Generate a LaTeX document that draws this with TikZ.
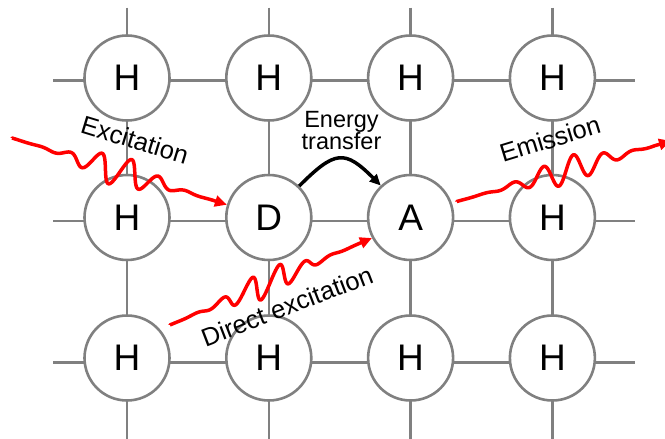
\documentclass[tikz,border=0pt]{standalone}
\usepackage{fontspec}
\setmainfont{Liberation Sans}
\usetikzlibrary{decorations,arrows.meta}

\definecolor{gridgray}{RGB}{128,128,128}
\definecolor{photonred}{RGB}{255,0,0}

% wave packet along a path: amplitude, centre, width, wavelength, phase, shear
\pgfdeclaredecoration{photonwave}{wave}{%
  \state{wave}[width=1pt, switch if less than=16pt to final]{%
    \pgfmathsetmacro\phS{\pgfdecoratedcompleteddistance}%
    \pgfmathsetmacro\phQ{(\phS-\phCen)/\phWid}%
    \pgfmathsetmacro\phT{(\phS-\phPha)/\phLen}%
    \pgfmathsetmacro\phOff{\phAmp*exp(-\phQ*\phQ)*sin(360*\phT)}%
    \pgfmathsetmacro\phX{\phK*\phOff}%
    \pgfpathlineto{\pgfpoint{\phX pt}{\phOff pt}}%
  }%
  \state{final}{\pgfpathlineto{\pgfpointdecoratedpathlast}}%
}

\tikzset{
  photon/.style n args={6}{decorate, decoration={photonwave}, draw=photonred,
    line width=3.5pt, line join=round, -{Triangle[length=12pt,width=11pt]},
    /utils/exec={\def\phAmp{#1}\def\phCen{#2}\def\phWid{#3}\def\phLen{#4}\def\phPha{#5}\def\phK{#6}}},
}

\begin{document}
\begin{tikzpicture}[x=1pt,y=-1pt,
  lattice/.style={draw=gridgray, line width=2.6pt},
  site/.style={circle, draw=gridgray, line width=2.6pt, fill=white,
    minimum size=85pt, inner sep=0pt, font=\fontsize{37}{40}\selectfont},
  lbl/.style={font=\fontsize{25.5}{27}\selectfont, inner sep=0pt},
  transferarrow/.style={line width=3.5pt, -{Triangle[length=11pt,width=10pt]}},
]
\useasboundingbox (0,0) rectangle (665,439);

% lattice lines
\foreach \gx in {127,268.8,410.6,552.4} \draw[lattice] (\gx,7.5) -- (\gx,439);
\foreach \gy in {80.5,221,362.5} \draw[lattice] (53,\gy) -- (635,\gy);

% sites
\node[site] (h11) at (127,78) {H};
\node[site] (h12) at (268.8,78) {H};
\node[site] (h13) at (410.6,78) {H};
\node[site] (h14) at (552.4,78) {H};
\node[site] (h21) at (127,217.5) {H};
\node[site] (D) at (268.8,217.5) {D};
\node[site] (A) at (410.6,217.5) {A};
\node[site] (h24) at (552.4,217.5) {H};
\node[site] (h31) at (127,358) {H};
\node[site] (h32) at (268.8,358) {H};
\node[site] (h33) at (410.6,358) {H};
\node[site] (h34) at (552.4,358) {H};

% energy transfer
\draw[transferarrow] (D.46) .. controls +(36,-36) and +(-36,-36) .. (A.133);
\node[font=\fontsize{23.5}{22}\selectfont, align=center, inner sep=0pt] (let) at (341.5,131) {Energy\\transfer};

% photons
\coordinate (exS) at (12,138);
\coordinate (diS) at (170,325);
\coordinate (emE) at (671,141);
\coordinate (emS) at ([xshift=5pt,yshift=1pt]A.20);
\draw[photon={15.5}{112}{44}{31}{82.25}{0}] (exS) -- (D.163);
\draw[photon={13}{105}{44}{30}{79.5}{0.67}] (diS) -- (A.208);
\draw[photon={13.5}{115}{46}{31.5}{50.6}{0.28}] (emS) -- (emE);

% labels
\node[lbl, rotate=-17] (lex) at (135,140) {Excitation};
\node[lbl, rotate=17] (lem) at (550,139) {Emission};
\node[lbl, rotate=21] (ldi) at (287,306) {Direct excitation};
\end{tikzpicture}
\end{document}
